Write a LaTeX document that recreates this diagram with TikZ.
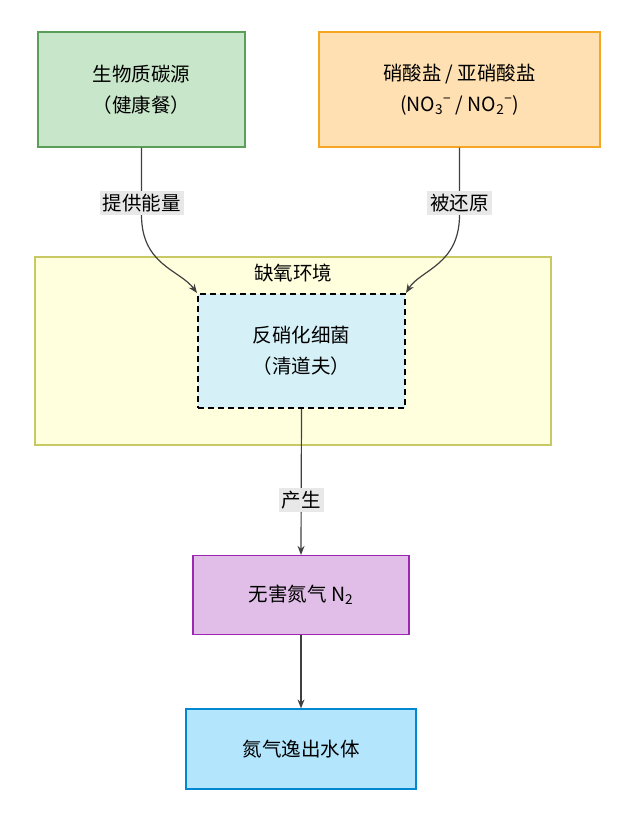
\documentclass[tikz,border=0pt]{standalone}
\usepackage{fontspec}
\setmainfont{Noto Sans CJK SC}
\usetikzlibrary{arrows.meta}
\definecolor{gfill}{HTML}{C8E6C9}\definecolor{gline}{HTML}{5A9E5A}
\definecolor{ofill}{HTML}{FFE0B2}\definecolor{oline}{HTML}{F5A623}
\definecolor{yfill}{HTML}{FFFFDE}\definecolor{yline}{HTML}{C8C864}
\definecolor{bfill}{HTML}{D6F0F8}
\definecolor{pfill}{HTML}{E1BEE7}\definecolor{pline}{HTML}{9C27B0}
\definecolor{cfill}{HTML}{B3E5FC}\definecolor{cline}{HTML}{0288D1}
\tikzset{>={Stealth[length=9pt,width=7pt]},
  box/.style={draw, line width=1.2pt, align=center, font=\fontsize{19.5}{31}\selectfont, inner sep=0pt},
  lbl/.style={fill=gray!18, font=\fontsize{19.5}{22}\selectfont, inner sep=3pt},
  link/.style={draw=black!75, line width=1.2pt, ->}}
\begin{document}
\begin{tikzpicture}[x=1pt,y=-1pt]
    \useasboundingbox[fill=white] (0,0) rectangle (636,824);
    % anoxic zone
    \draw[fill=yfill, draw=yline, line width=1.2pt] (35,257) rectangle (551,445);
    \node[font=\fontsize{19.5}{22}\selectfont] (zone) at (293,273) {缺氧环境};
    \node[box, fill=gfill, draw=gline, minimum width=207pt, minimum height=115pt] (carbon) at (141.5,89.5) {生物质碳源\\（健康餐）};
    \node[box, fill=ofill, draw=oline, minimum width=281pt, minimum height=115pt] (nitrate) at (459.5,89.5) {硝酸盐 / 亚硝酸盐\\(NO\textsubscript{3}\textsuperscript{−} / NO\textsubscript{2}\textsuperscript{−})};
    \node[box, fill=bfill, dash pattern=on 6pt off 4pt, line width=2pt, minimum width=207pt, minimum height=114pt] (bact) at (301.5,351) {反硝化细菌\\（清道夫）};
    \node[box, fill=pfill, draw=pline, minimum width=216pt, minimum height=79pt] (n2) at (301,595) {无害氮气 N\textsubscript{2}};
    \node[box, fill=cfill, draw=cline, minimum width=230pt, minimum height=80pt] (escape) at (301,749) {氮气逸出水体};
    % connectors
    \coordinate (cbend) at (141.5,215);
    \coordinate (nbend) at (459.5,215);
    \draw[link] (carbon.south) -- (cbend) .. controls (141.5,265) and (180,270) .. (bact.north west);
    \draw[link] (nitrate.south) -- (nbend) .. controls (459.5,265) and (420,270) .. (bact.north east);
    \node[lbl] (give) at (141.5,203) {提供能量};
    \node[lbl] (reduce) at (459.5,203) {被还原};
    \draw[link] (bact.south) -- (n2.north);
    \node[lbl] (make) at (301,500) {产生};
    \draw[link] (n2.south) -- (escape.north);
\end{tikzpicture}
\end{document}
